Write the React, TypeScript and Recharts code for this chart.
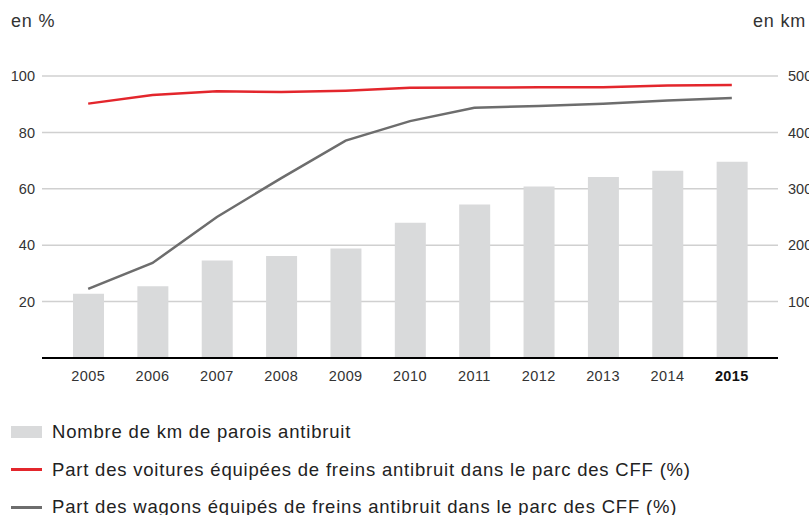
import { ComposedChart, Bar, Line, XAxis, YAxis, CartesianGrid } from "recharts";

const years = ["2005", "2006", "2007", "2008", "2009", "2010", "2011", "2012", "2013", "2014", "2015"];
const kmParois = [114, 127, 173, 181, 194, 240, 272, 304, 321, 332, 348];
const voitures = [90.2, 93.3, 94.6, 94.3, 94.8, 95.8, 95.9, 96.0, 96.0, 96.6, 96.8];
const wagons = [24.5, 33.7, 50.0, 63.8, 77.1, 84.0, 88.7, 89.4, 90.2, 91.3, 92.2];
const leftTicks = [20, 40, 60, 80, 100];
const rightTicks = [100, 200, 300, 400, 500];

const legendItems = [
  { label: "Nombre de km de parois antibruit", color: "#d9dadb", kind: "bar" },
  { label: "Part des voitures équipées de freins antibruit dans le parc des CFF (%)", color: "#e3262c", kind: "line" },
  { label: "Part des wagons équipés de freins antibruit dans le parc des CFF (%)", color: "#6d6d6d", kind: "line" },
];

const data = years.map((year, i) => ({
  year,
  km: kmParois[i],
  voitures: voitures[i],
  wagons: wagons[i],
}));

const font = "'Liberation Sans', Arial, sans-serif";

function YearTick(props: any) {
  const { x, y, payload } = props;
  const last = payload.value === years[years.length - 1];
  return (
    <text
      x={x}
      y={y}
      dy="0.71em"
      textAnchor="middle"
      fontSize={14.5}
      letterSpacing={0.4}
      fill={last ? "#111" : "#333"}
      fontWeight={last ? 700 : 400}
      fontFamily={font}
    >
      {payload.value}
    </text>
  );
}

export default function App() {
  return (
    <div style={{ position: "absolute", left: 0, top: 0, width: 809, height: 515, overflow: "hidden", background: "#fff", fontFamily: font }}>
      <div style={{ position: "absolute", left: 11, top: 11, fontSize: 18, letterSpacing: 0.8, color: "#333" }}>en %</div>
      <div style={{ position: "absolute", left: 753, top: 11, fontSize: 18, letterSpacing: 0.8, color: "#333", whiteSpace: "nowrap" }}>en km</div>
      <ComposedChart width={809} height={515} data={data} margin={{ top: 76, right: 0, left: 0, bottom: 127 }}>
        <CartesianGrid yAxisId="left" vertical={false} horizontalValues={leftTicks} stroke="#d0d0d0" strokeWidth={1.5} />
        <XAxis
          dataKey="year"
          height={30}
          padding={{ left: 14, right: 14 }}
          axisLine={{ stroke: "#000", strokeWidth: 2 }}
          tickLine={false}
          tickMargin={7}
          tick={<YearTick />}
          interval={0}
        />
        <YAxis
          yAxisId="left"
          domain={[0, 100]}
          ticks={leftTicks}
          width={42}
          axisLine={false}
          tickLine={false}
          tickMargin={1}
          tick={{ fontSize: 14.5, fill: "#333", fontFamily: font }}
        />
        <YAxis
          yAxisId="right"
          orientation="right"
          domain={[0, 500]}
          ticks={rightTicks}
          width={31}
          axisLine={false}
          tickLine={false}
          tickMargin={4}
          tick={{ fontSize: 14.5, fill: "#333", fontFamily: font, textAnchor: "start" }}
        />
        <Bar yAxisId="right" dataKey="km" fill="#d9dadb" barSize={31} isAnimationActive={false} />
        <Line yAxisId="left" dataKey="wagons" stroke="#6d6d6d" strokeWidth={2.5} dot={false} type="linear" isAnimationActive={false} />
        <Line yAxisId="left" dataKey="voitures" stroke="#e3262c" strokeWidth={2.5} dot={false} type="linear" isAnimationActive={false} />
      </ComposedChart>
      {legendItems.map((item, i) => (
        <div
          key={item.label}
          style={{ position: "absolute", left: 11, top: 421 + i * 37.5, height: 22, display: "flex", alignItems: "center", whiteSpace: "nowrap" }}
        >
          <div style={{ width: 31, height: item.kind === "bar" ? 12 : 3, background: item.color }} />
          <span style={{ marginLeft: 10, fontSize: 18.5, letterSpacing: 0.8, color: "#222" }}>{item.label}</span>
        </div>
      ))}
    </div>
  );
}
